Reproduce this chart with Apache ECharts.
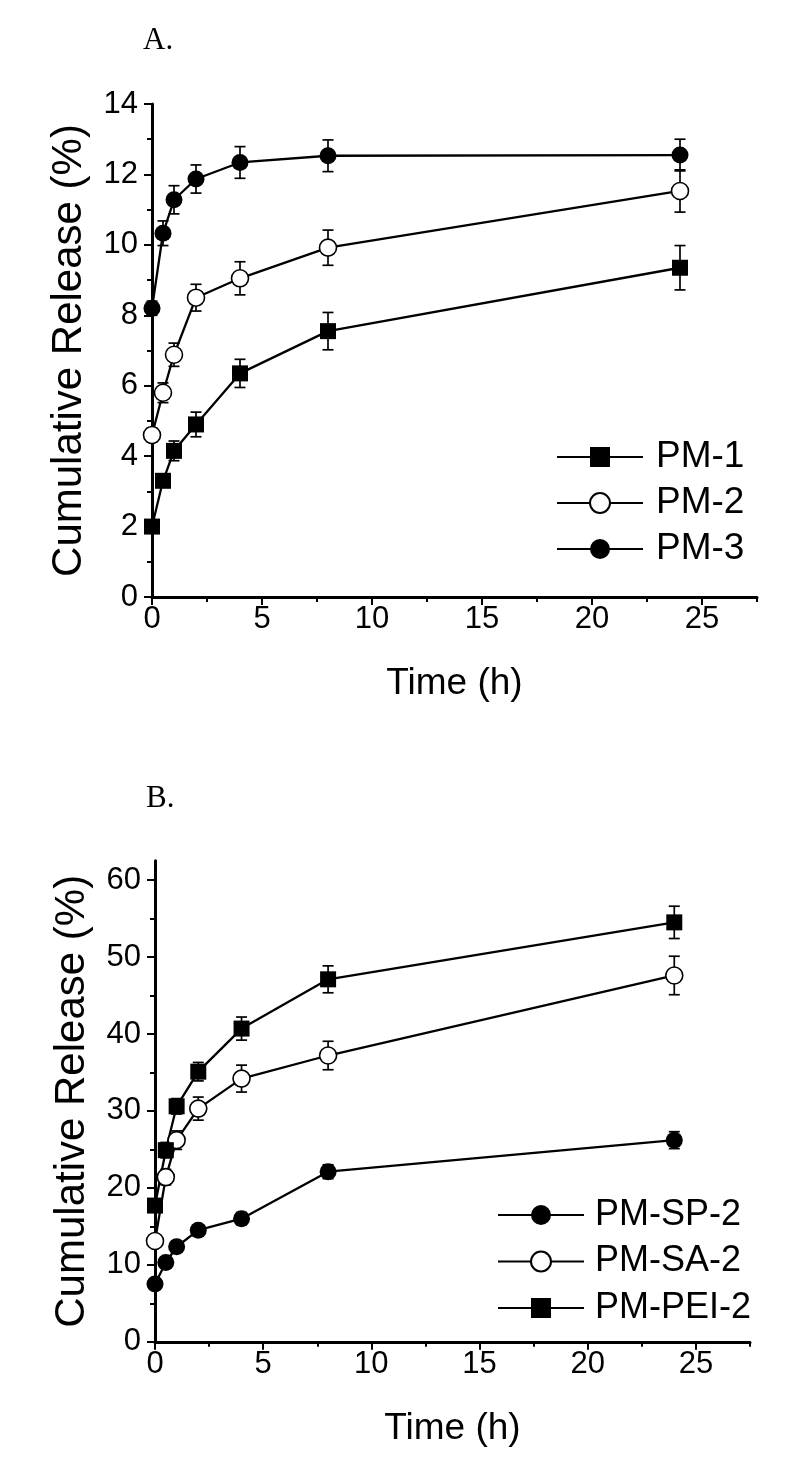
<!DOCTYPE html>
<html>
<head>
<meta charset="utf-8">
<script src="https://cdn.jsdelivr.net/npm/echarts@6/dist/echarts.min.js"></script>
<style>
html,body{margin:0;padding:0;background:#fff;}
#chart{width:800px;height:1462px;}
</style>
</head>
<body>
<div id="chart"></div>
<script>
// ---- data ----
const timeH = [0, 0.5, 1, 2, 4, 8, 24];

// Panel A
const pm1 = [2.0, 3.3, 4.15, 4.9, 6.35, 7.55, 9.35];
const pm1Err = [0.1, 0.15, 0.28, 0.35, 0.4, 0.53, 0.63];
const pm2 = [4.6, 5.8, 6.88, 8.5, 9.05, 9.92, 11.53];
const pm2Err = [0.2, 0.28, 0.33, 0.38, 0.47, 0.5, 0.6];
const pm3 = [8.2, 10.33, 11.28, 11.87, 12.34, 12.53, 12.55];
const pm3Err = [0.2, 0.35, 0.4, 0.4, 0.45, 0.45, 0.45];

// Panel B
const pmSP2 = [7.5, 10.3, 12.35, 14.5, 16.0, 22.1, 26.2];
const pmSP2Err = [0.5, 0.6, 0.7, 0.7, 0.8, 0.9, 1.1];
const pmSA2 = [13.1, 21.4, 26.2, 30.3, 34.2, 37.2, 47.6];
const pmSA2Err = [0.6, 1.0, 1.2, 1.5, 1.75, 1.85, 2.5];
const pmPEI2 = [17.7, 24.9, 30.6, 35.1, 40.7, 47.1, 54.5];
const pmPEI2Err = [0.8, 1.0, 1.0, 1.2, 1.5, 1.75, 2.1];

// tick labels
const xMajorTicks = [0, 5, 10, 15, 20, 25];
const xMinorTicks = [2.5, 7.5, 12.5, 17.5, 22.5, 27.5];
const yMajorTicksA = [0, 2, 4, 6, 8, 10, 12, 14];
const yMinorTicksA = [1, 3, 5, 7, 9, 11, 13];
const yMajorTicksB = [0, 10, 20, 30, 40, 50, 60];
const yMinorTicksB = [5, 15, 25, 35, 45, 55];

// ---- helpers ----
const FONT = 'Liberation Sans';
function pairs(ys) { return timeH.map((t, i) => [t, ys[i]]); }
function errData(ys, es) { return timeH.map((t, i) => [t, ys[i] - es[i], ys[i] + es[i]]); }

function errRender(params, api) {
  const x = api.value(0), lo = api.value(1), hi = api.value(2);
  const top = api.coord([x, hi]);
  const bot = api.coord([x, lo]);
  const w = 5.5;
  const st = { stroke: '#000', lineWidth: 1.7 };
  return {
    type: 'group',
    children: [
      { type: 'line', shape: { x1: top[0], y1: top[1], x2: bot[0], y2: bot[1] }, style: st },
      { type: 'line', shape: { x1: top[0] - w, y1: top[1], x2: top[0] + w, y2: top[1] }, style: st },
      { type: 'line', shape: { x1: bot[0] - w, y1: bot[1], x2: bot[0] + w, y2: bot[1] }, style: st }
    ]
  };
}

function errSeries(ys, es, idx) {
  return {
    type: 'custom', xAxisIndex: idx, yAxisIndex: idx, z: 1, silent: true,
    renderItem: errRender, data: errData(ys, es), clip: false
  };
}

function lineSeries(name, ys, idx, symbol, open, size) {
  return {
    name: name, type: 'line', xAxisIndex: idx, yAxisIndex: idx, z: 3,
    data: pairs(ys), symbol: symbol, symbolSize: size, showAllSymbol: true,
    lineStyle: { color: '#000', width: 2.3 },
    itemStyle: open ? { color: '#fff', borderColor: '#000', borderWidth: 1.6 }
                    : { color: '#000', borderColor: '#000', borderWidth: 0 },
    emphasis: { disabled: true }, animation: false, clip: false
  };
}

function mainX(grid) {
  return {
    type: 'value', gridIndex: grid, min: 0, max: 27.5, interval: 5,
    name: 'Time (h)', nameLocation: 'middle', nameGap: 68,
    nameTextStyle: { fontFamily: FONT, fontSize: 37, color: '#000' },
    axisLine: { onZero: false, lineStyle: { color: '#000', width: 3 } },
    axisTick: { show: true, length: 8, lineStyle: { color: '#000', width: 2 }, customValues: xMajorTicks },
    axisLabel: { fontFamily: FONT, fontSize: 31, color: '#000', margin: 7, customValues: xMajorTicks },
    splitLine: { show: false }
  };
}
function mainY(grid, max, interval, majors) {
  return {
    type: 'value', gridIndex: grid, min: 0, max: max, interval: interval,
    name: 'Cumulative Release (%)', nameLocation: 'middle', nameGap: 62,
    nameTextStyle: { fontFamily: FONT, fontSize: 42, color: '#000' },
    axisLine: { onZero: false, lineStyle: { color: '#000', width: 3 } },
    axisTick: { show: true, length: 8, lineStyle: { color: '#000', width: 2 }, customValues: majors },
    axisLabel: { fontFamily: FONT, fontSize: 31, color: '#000', margin: 14, customValues: majors },
    splitLine: { show: false }
  };
}
function minorX(grid) {
  return {
    type: 'value', gridIndex: grid, min: 0, max: 27.5, interval: 2.5,
    axisLine: { show: false, onZero: false },
    axisTick: { show: true, length: 5, lineStyle: { color: '#000', width: 2 }, customValues: xMinorTicks },
    axisLabel: { show: false }, splitLine: { show: false }
  };
}
function minorY(grid, max, minors) {
  return {
    type: 'value', gridIndex: grid, min: 0, max: max,
    axisLine: { show: false, onZero: false },
    axisTick: { show: true, length: 5, lineStyle: { color: '#000', width: 2 }, customValues: minors },
    axisLabel: { show: false }, splitLine: { show: false }
  };
}

const gridA = { left: 152, top: 104, width: 605, height: 493 };
const gridB = { left: 155, top: 860.8, width: 595, height: 481 };

const legendTextA = { fontFamily: FONT, fontSize: 37, color: '#000', lineHeight: 38, padding: [0, 0, 0, 8] };
const legendTextB = { fontFamily: FONT, fontSize: 36, color: '#000', lineHeight: 38, padding: [0, 0, 0, 6] };

const option = {
  animation: false,
  backgroundColor: '#fff',
  textStyle: { fontFamily: FONT },
  title: [
    { text: 'A.', left: 138, top: 20, textStyle: { fontFamily: 'Liberation Serif', fontSize: 31, fontWeight: 'normal', color: '#000' } },
    { text: 'B.', left: 141, top: 778, textStyle: { fontFamily: 'Liberation Serif', fontSize: 31, fontWeight: 'normal', color: '#000' } }
  ],
  grid: [
    Object.assign({}, gridA), Object.assign({}, gridB),
    Object.assign({}, gridA), Object.assign({}, gridB)
  ],
  xAxis: [mainX(0), mainX(1), minorX(2), minorX(3)],
  yAxis: [
    mainY(0, 14, 2, yMajorTicksA), mainY(1, 62.5, 10, yMajorTicksB),
    minorY(2, 14, yMinorTicksA), minorY(3, 62.5, yMinorTicksB)
  ],
  legend: [
    {
      data: ['PM-1', 'PM-2', 'PM-3'], orient: 'vertical', left: 551, top: 433,
      itemWidth: 86, itemHeight: 25, itemGap: 8, textStyle: legendTextA,
      selectedMode: false
    },
    {
      data: ['PM-SP-2', 'PM-SA-2', 'PM-PEI-2'], orient: 'vertical', left: 492, top: 1191,
      itemWidth: 86, itemHeight: 25, itemGap: 8.5, textStyle: legendTextB,
      selectedMode: false
    }
  ],
  series: [
    errSeries(pm1, pm1Err, 0),
    errSeries(pm2, pm2Err, 0),
    errSeries(pm3, pm3Err, 0),
    lineSeries('PM-1', pm1, 0, 'rect', false, 16),
    lineSeries('PM-2', pm2, 0, 'circle', true, 17),
    lineSeries('PM-3', pm3, 0, 'circle', false, 17),
    errSeries(pmSP2, pmSP2Err, 1),
    errSeries(pmSA2, pmSA2Err, 1),
    errSeries(pmPEI2, pmPEI2Err, 1),
    lineSeries('PM-SP-2', pmSP2, 1, 'circle', false, 17),
    lineSeries('PM-SA-2', pmSA2, 1, 'circle', true, 17),
    lineSeries('PM-PEI-2', pmPEI2, 1, 'rect', false, 16)
  ]
};

const chart = echarts.init(document.getElementById('chart'), null, { renderer: 'canvas' });
chart.setOption(option);
</script>
</body>
</html>
